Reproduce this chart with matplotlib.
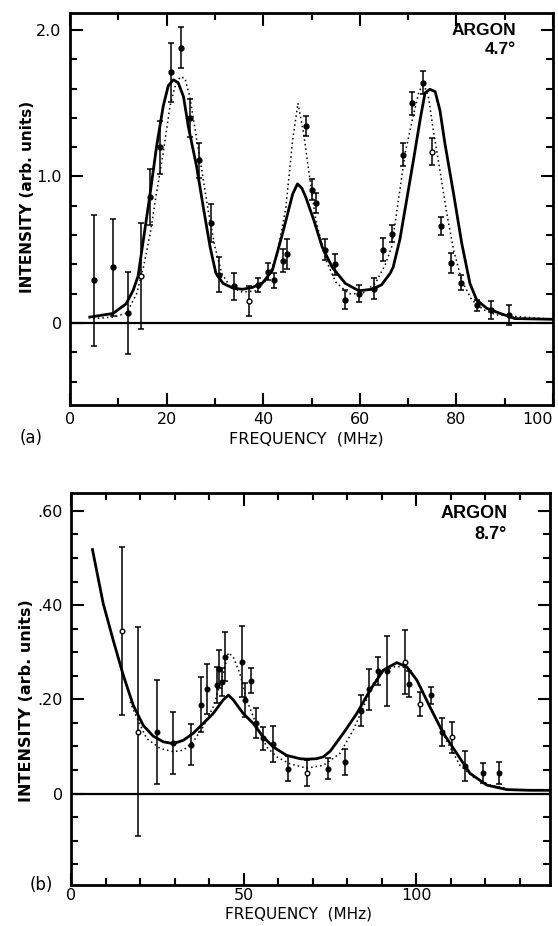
import matplotlib
matplotlib.use("Agg")
import matplotlib.pyplot as plt
from matplotlib.ticker import MultipleLocator, FixedLocator, FixedFormatter

plt.rcParams['font.family'] = ['DejaVu Sans']

# ---------------- Panel (a): Argon 4.7 deg ----------------
a_freq = [4.9, 8.9, 12.0, 14.8, 16.6, 18.6, 21.0, 22.9, 24.9, 26.8, 29.2, 30.9, 34.0,
          37.0, 39.0, 41.0, 42.3, 44.0, 45.0, 48.8, 50.0, 51.0, 52.8, 54.8, 56.9,
          59.8, 62.9, 64.7, 66.7, 68.9, 70.9, 73.0, 74.9, 76.8, 78.9, 81.0, 84.2,
          87.1, 90.9]
a_int = [0.29, 0.38, 0.07, 0.32, 0.86, 1.20, 1.71, 1.88, 1.40, 1.11, 0.685, 0.33, 0.25,
         0.15, 0.26, 0.35, 0.29, 0.425, 0.47, 1.345, 0.91, 0.82, 0.50, 0.40, 0.157,
         0.20, 0.235, 0.50, 0.61, 1.15, 1.50, 1.64, 1.17, 0.66, 0.41, 0.275, 0.12,
         0.09, 0.055]
a_err = [0.45, 0.33, 0.28, 0.36, 0.19, 0.18, 0.20, 0.14, 0.13, 0.12, 0.13, 0.12, 0.09,
         0.10, 0.05, 0.06, 0.05, 0.08, 0.10, 0.07, 0.07, 0.07, 0.07, 0.07, 0.065,
         0.06, 0.07, 0.08, 0.06, 0.08, 0.08, 0.08, 0.09, 0.06, 0.07, 0.05, 0.04,
         0.06, 0.07]
a_open = [3, 13, 32]

a_solid_f = [4.1, 8.9, 11.6, 12.4, 13.1, 14.1, 15.2, 16.6, 17.9, 19.3, 20.35, 21.4, 22.4,
             23.5, 24.5, 26.2, 27.6, 29.0, 30.2, 31.7, 33.8, 35.7, 37.8, 39.9, 41.9,
             44.0, 46.1, 47.1, 48.0, 48.8, 50.5, 52.2, 54.3, 57.0, 59.8, 62.5, 64.5,
             66.3, 66.9, 68.3, 69.7, 71.1, 72.5, 73.5, 74.5, 75.6, 76.6, 77.6, 79.4,
             81.1, 82.8, 84.2, 86.3, 89.0, 92.1, 100.0]
a_solid_i = [0.04, 0.065, 0.13, 0.18, 0.225, 0.32, 0.57, 0.885, 1.20, 1.48, 1.62, 1.66, 1.64,
             1.545, 1.34, 1.07, 0.79, 0.52, 0.34, 0.27, 0.237, 0.23, 0.243, 0.275, 0.36,
             0.61, 0.88, 0.95, 0.92, 0.86, 0.70, 0.52, 0.38, 0.27, 0.22, 0.23, 0.26,
             0.34, 0.38, 0.57, 0.84, 1.11, 1.39, 1.57, 1.595, 1.58, 1.45, 1.23, 0.885,
             0.545, 0.27, 0.157, 0.10, 0.066, 0.03, 0.025]

a_dot_f = [4.8, 8.9, 11.6, 12.4, 13.8, 15.2, 16.6, 17.9, 19.3, 20.7, 21.7, 22.8, 23.8,
           24.8, 25.9, 27.3, 28.6, 30.0, 31.4, 33.1, 35.7, 38.5, 40.9, 42.9, 44.7,
           46.1, 47.2, 48.4, 49.5, 50.9, 53.0, 55.0, 57.7, 60.5, 63.2, 65.3, 66.6,
           68.0, 69.4, 70.7, 72.1, 73.1, 74.2, 75.2, 76.6, 78.0, 79.4, 81.1, 83.2,
           85.6, 88.3, 100.0]
a_dot_i = [0.03, 0.04, 0.066, 0.11, 0.20, 0.38, 0.61, 0.885, 1.16, 1.48, 1.61, 1.68, 1.67,
           1.545, 1.32, 1.04, 0.77, 0.52, 0.34, 0.25, 0.21, 0.22, 0.30, 0.47, 0.79,
           1.25, 1.50, 1.29, 1.02, 0.70, 0.43, 0.28, 0.20, 0.20, 0.27, 0.40, 0.52,
           0.84, 1.16, 1.36, 1.56, 1.64, 1.545, 1.32, 1.04, 0.75, 0.50, 0.29, 0.157,
           0.09, 0.055, 0.025]

a_xticklabels = ["0", "20", "40", "60", "80", "100"]
a_yticklabels = ["0", "1.0", "2.0"]

# ---------------- Panel (b): Argon 8.7 deg ----------------
b_freq = [14.6, 19.4, 24.7, 29.5, 34.6, 37.5, 39.2, 42.1, 42.9, 43.5, 44.5, 49.4, 50.3,
          52.0, 53.5, 55.5, 58.3, 62.7, 68.4, 74.5, 79.3, 83.9, 86.3, 88.8, 91.4,
          96.7, 97.9, 101.0, 104.2, 107.3, 110.2, 114.1, 119.4, 124.0]
b_int = [0.345, 0.131, 0.131, 0.108, 0.104, 0.189, 0.223, 0.23, 0.264, 0.237, 0.29, 0.28, 0.199,
         0.24, 0.149, 0.117, 0.106, 0.053, 0.044, 0.053, 0.067, 0.176, 0.221, 0.26, 0.26,
         0.28, 0.233, 0.19, 0.209, 0.131, 0.12, 0.058, 0.043, 0.044]
b_err = [0.178, 0.222, 0.11, 0.066, 0.043, 0.059, 0.053, 0.038, 0.04, 0.03, 0.052, 0.075, 0.036,
         0.026, 0.032, 0.025, 0.038, 0.027, 0.027, 0.023, 0.027, 0.033, 0.044, 0.03, 0.074,
         0.068, 0.027, 0.025, 0.018, 0.03, 0.033, 0.032, 0.021, 0.024]
b_open = [0, 1, 18, 25, 27, 30]

b_solid_f = [6.1, 9.2, 12.1, 15.0, 17.9, 20.8, 23.7, 26.6, 29.5, 32.4, 35.3, 38.2, 41.1,
             44.0, 45.5, 46.9, 49.8, 52.7, 55.6, 58.5, 62.4, 66.3, 68.2, 71.0, 73.0,
             75.0, 78.8, 82.7, 86.6, 90.4, 94.3, 97.2, 100.1, 103.9, 107.8, 111.7,
             115.5, 120.4, 126.2, 132.9, 139.0]
b_solid_i = [0.518, 0.404, 0.326, 0.252, 0.188, 0.145, 0.122, 0.110, 0.106, 0.113, 0.128, 0.149, 0.170,
             0.199, 0.209, 0.199, 0.170, 0.149, 0.120, 0.099, 0.081, 0.074, 0.073, 0.074, 0.078,
             0.090, 0.128, 0.170, 0.220, 0.262, 0.278, 0.269, 0.241, 0.184, 0.128, 0.085,
             0.043, 0.018, 0.0085, 0.007, 0.007]

b_dot_f = [17.0, 18.4, 21.8, 25.7, 29.5, 32.4, 35.3, 38.2, 41.1, 44.0, 45.5, 46.9, 48.8,
           50.8, 53.7, 56.6, 59.5, 63.4, 68.2, 73.0, 77.8, 81.7, 84.6, 87.5, 90.4,
           93.3, 95.7, 98.1, 101.0, 103.9, 106.8, 109.7, 112.6, 116.5, 121.3, 126.2]
b_dot_i = [0.195, 0.170, 0.117, 0.096, 0.089, 0.092, 0.110, 0.142, 0.184, 0.255, 0.299, 0.290, 0.255,
           0.199, 0.145, 0.099, 0.078, 0.063, 0.054, 0.060, 0.085, 0.135, 0.183, 0.234, 0.259,
           0.269, 0.270, 0.262, 0.230, 0.183, 0.140, 0.099, 0.060, 0.035, 0.018, 0.011]

b_xticklabels = ["0", "50", "100"]
b_yticklabels = ["0", ".20", ".40", ".60"]

W, H = 558, 926
fig = plt.figure(figsize=(W / 100, H / 100), dpi=100)

def px_axes(l, r, t, b):
    return fig.add_axes([l / W, 1 - b / H, (r - l) / W, (b - t) / H])

def style(ax, xpad):
    for s in ax.spines.values():
        s.set_linewidth(2.0)
    ax.tick_params(which='both', direction='in', top=True, right=True,
                   width=1.5, labelsize=11.5, pad=6)
    ax.tick_params(axis='x', which='both', pad=xpad)
    ax.tick_params(which='major', length=9)
    ax.tick_params(which='minor', length=5)

def draw_points(ax, f, v, e, open_idx, ms):
    ax.errorbar(f, v, yerr=e, fmt='none', ecolor='black', elinewidth=1.1,
                capsize=2.5, capthick=1.1, zorder=3)
    for i, (x, y) in enumerate(zip(f, v)):
        op = i in open_idx
        ax.plot(x, y, 'o', ms=ms, mec='black', mew=1.0,
                mfc='white' if op else 'black', zorder=4)

# ----- panel (a)
ax1 = px_axes(70, 553, 13, 405)
ax1.set_xlim(0, 100)
ax1.set_ylim(-0.56, 2.116)
ax1.axhline(0, color='black', lw=1.6, zorder=2)
ax1.plot(a_solid_f, a_solid_i, color='black', lw=2.0, zorder=3, solid_joinstyle='round')
ax1.plot(a_dot_f, a_dot_i, color='black', lw=1.1, ls=(0, (1, 2)), zorder=3)
draw_points(ax1, a_freq, a_int, a_err, a_open, 3.5)
style(ax1, 5)
ax1.xaxis.set_major_locator(FixedLocator([0, 20, 40, 60, 80, 100]))
ax1.xaxis.set_major_formatter(FixedFormatter(a_xticklabels))
ax1.xaxis.set_minor_locator(MultipleLocator(10))
ax1.yaxis.set_major_locator(FixedLocator([0, 1.0, 2.0]))
ax1.yaxis.set_major_formatter(FixedFormatter(a_yticklabels))
ax1.yaxis.set_minor_locator(MultipleLocator(0.2))
ax1.set_xlabel("FREQUENCY  (MHz)", fontsize=11.5)
ax1.xaxis.set_label_coords(0.49, -0.068)
ax1.set_ylabel("INTENSITY (arb. units)", fontsize=11, fontweight='bold')
ax1.yaxis.set_label_coords(-0.072, 0.53)
ax1.text(0.857, 0.975, "ARGON", transform=ax1.transAxes, ha='center', va='top',
         fontsize=12.5, fontweight='bold', family=['Liberation Sans', 'DejaVu Sans'])
ax1.text(0.89, 0.925, "4.7°", transform=ax1.transAxes, ha='center', va='top',
         fontsize=12.5, fontweight='bold', family=['Liberation Sans', 'DejaVu Sans'])
fig.text(20 / W, 1 - 438 / H, "(a)", fontsize=12, va='center', ha='left')

# ----- panel (b)
ax2 = px_axes(71.4, 550, 493, 885)
ax2.set_xlim(0, 138.7)
ax2.set_ylim(-0.194, 0.638)
ax2.axhline(0, color='black', lw=1.6, zorder=2)
ax2.plot(b_solid_f, b_solid_i, color='black', lw=2.0, zorder=3, solid_joinstyle='round')
ax2.plot(b_dot_f, b_dot_i, color='black', lw=1.1, ls=(0, (1, 2)), zorder=3)
draw_points(ax2, b_freq, b_int, b_err, b_open, 3.3)
style(ax2, 2)
ax2.xaxis.set_major_locator(FixedLocator([0, 50, 100]))
ax2.xaxis.set_major_formatter(FixedFormatter(b_xticklabels))
ax2.xaxis.set_minor_locator(MultipleLocator(10))
ax2.yaxis.set_major_locator(FixedLocator([0, 0.2, 0.4, 0.6]))
ax2.yaxis.set_major_formatter(FixedFormatter(b_yticklabels))
ax2.yaxis.set_minor_locator(MultipleLocator(0.05))
ax2.set_xlabel("FREQUENCY  (MHz)", fontsize=11)
ax2.xaxis.set_label_coords(0.475, -0.056)
ax2.set_ylabel("INTENSITY (arb. units)", fontsize=11.5, fontweight='bold')
ax2.yaxis.set_label_coords(-0.078, 0.47)
ax2.text(0.842, 0.97, "ARGON", transform=ax2.transAxes, ha='center', va='top',
         fontsize=13, fontweight='bold', family=['Liberation Sans', 'DejaVu Sans'])
ax2.text(0.875, 0.915, "8.7°", transform=ax2.transAxes, ha='center', va='top',
         fontsize=13, fontweight='bold', family=['Liberation Sans', 'DejaVu Sans'])
fig.text(30 / W, 1 - 885 / H, "(b)", fontsize=12, va='center', ha='left')

fig.canvas.draw()
labs = ax1.xaxis.get_majorticklabels()
labs[-1].set_horizontalalignment('right')

fig.savefig("out.png", dpi=100)
